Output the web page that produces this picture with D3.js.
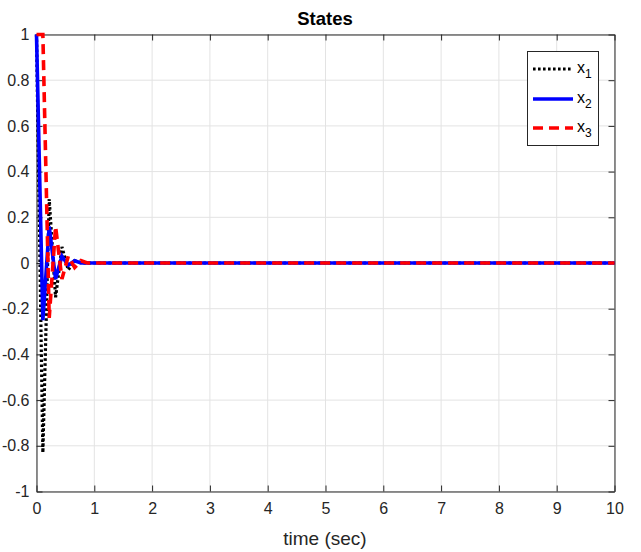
<!DOCTYPE html>
<html>
<head>
<meta charset="utf-8">
<script src="https://cdn.jsdelivr.net/npm/d3@7"></script>
<style>
  html, body { margin: 0; padding: 0; background: #fff; }
  svg { display: block; font-family: "Liberation Sans", Arial, Helvetica, sans-serif; }
</style>
</head>
<body>
<svg id="chart" width="641" height="552"></svg>
<script>
// Sampled state trajectories (seconds, state value)
const time = [0, 0.11, 0.22, 0.33, 0.44, 0.55, 0.66, 0.77, 0.88, 1.0, 10];
const x1 = [1, -0.83, 0.28, -0.15, 0.07, -0.03, 0.01, 0, 0, 0, 0];
const x2 = [1, -0.25, 0.16, -0.07, 0.03, -0.01, 0.01, 0, 0, 0, 0];
const x3 = [1, 1, -0.24, 0.16, -0.07, 0.03, -0.02, 0.01, 0, 0, 0];

const xTicks = [0, 1, 2, 3, 4, 5, 6, 7, 8, 9, 10];
const yTicks = [-1, -0.8, -0.6, -0.4, -0.2, 0, 0.2, 0.4, 0.6, 0.8, 1];
const seriesNames = ["x1", "x2", "x3"];

const svg = d3.select("#chart");
const L = 36.5, R = 614.5, T = 34.5, B = 491.5;

const x = d3.scaleLinear().domain([0, 10]).range([L, R]);
const y = d3.scaleLinear().domain([-1, 1]).range([B, T]);

// grid
const grid = svg.append("g");
grid.selectAll("line.gx").data(xTicks).enter().append("line")
  .attr("x1", d => x(d)).attr("x2", d => x(d)).attr("y1", T).attr("y2", B)
  .attr("stroke", "#e3e3e3").attr("stroke-width", 1);
grid.selectAll("line.gy").data(yTicks).enter().append("line")
  .attr("x1", L).attr("x2", R).attr("y1", d => y(d)).attr("y2", d => y(d))
  .attr("stroke", "#e3e3e3").attr("stroke-width", 1);

// axes (box with inward ticks on all sides)
const fmt = d => d === 0 ? "0" : String(+d.toFixed(1));
const axisColor = "#262626";
const tickLen = 6;

const axBottom = svg.append("g").attr("transform", `translate(0,${B})`)
  .call(d3.axisBottom(x).tickValues(xTicks).tickFormat(fmt).tickSizeInner(-tickLen).tickSizeOuter(0).tickPadding(11));
const axTop = svg.append("g").attr("transform", `translate(0,${T})`)
  .call(d3.axisTop(x).tickValues(xTicks).tickFormat("").tickSizeInner(-tickLen).tickSizeOuter(0));
const axLeft = svg.append("g").attr("transform", `translate(${L},0)`)
  .call(d3.axisLeft(y).tickValues(yTicks).tickFormat(fmt).tickSizeInner(-tickLen).tickSizeOuter(0).tickPadding(7));
const axRight = svg.append("g").attr("transform", `translate(${R},0)`)
  .call(d3.axisRight(y).tickValues(yTicks).tickFormat("").tickSizeInner(-tickLen).tickSizeOuter(0));

[axBottom, axTop, axLeft, axRight].forEach(g => {
  g.select(".domain").attr("stroke", axisColor).attr("stroke-width", 1);
  g.selectAll(".tick line").attr("stroke", axisColor);
  g.selectAll("text").attr("fill", "#262626").style("font-size", "16px")
    .style("font-family", "'Liberation Sans', Arial, sans-serif");
});

// series
const lineGen = d3.line().x(d => x(d[0])).y(d => y(d[1]));
const styles = [
  { data: x1, color: "#000000", width: 3.2, dash: "2.6,2.4" },
  { data: x2, color: "#0000ff", width: 3.6, dash: null },
  { data: x3, color: "#ff0000", width: 3.6, dash: "10,6" }
];
const plot = svg.append("g");
styles.forEach(s => {
  plot.append("path")
    .datum(time.map((t, i) => [t, s.data[i]]))
    .attr("d", lineGen)
    .attr("fill", "none")
    .attr("stroke", s.color)
    .attr("stroke-width", s.width)
    .attr("stroke-dasharray", s.dash)
    .attr("stroke-linejoin", "miter");
});

// title and axis label
svg.append("text").attr("x", 325).attr("y", 25)
  .attr("text-anchor", "middle").style("font-weight", "bold").style("font-size", "18.5px")
  .attr("fill", "#000").text("States");
svg.append("text").attr("x", 325).attr("y", 545)
  .attr("text-anchor", "middle").style("font-size", "19px")
  .attr("fill", "#262626").text("time (sec)");

// legend
const lg = svg.append("g");
const lx = 527.5, ly = 51.5, lw = 71, lh = 94;
lg.append("rect").attr("x", lx).attr("y", ly).attr("width", lw).attr("height", lh)
  .attr("fill", "#fff").attr("stroke", axisColor).attr("stroke-width", 1);
const rows = [69, 99, 128];
styles.forEach((s, i) => {
  lg.append("line").attr("x1", 533).attr("x2", 573).attr("y1", rows[i]).attr("y2", rows[i])
    .attr("stroke", s.color).attr("stroke-width", s.width).attr("stroke-dasharray", s.dash);
  const t = lg.append("text").attr("x", 577).attr("y", rows[i] + 4)
    .attr("fill", "#000").style("font-size", "16px");
  t.append("tspan").text(seriesNames[i][0]);
  t.append("tspan").attr("dy", 5).style("font-size", "12px").text(seriesNames[i].slice(1));
});
</script>
</body>
</html>
